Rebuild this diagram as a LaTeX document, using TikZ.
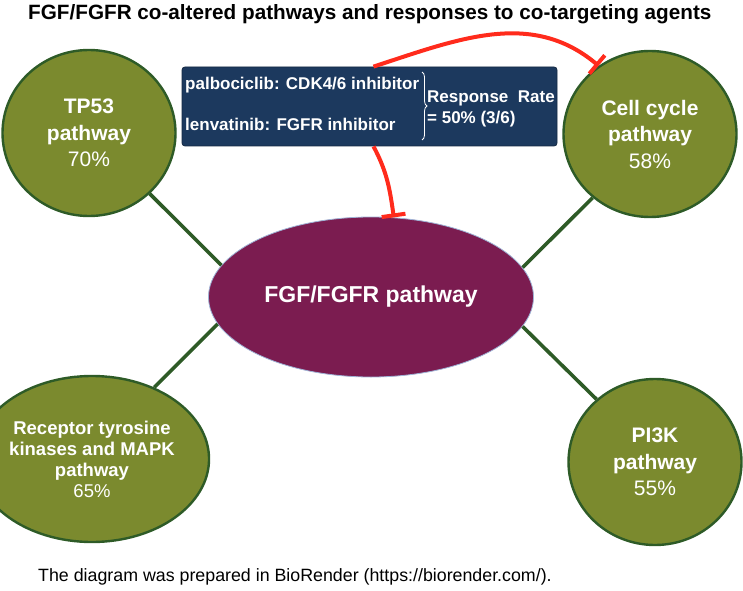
\documentclass[tikz,border=0pt]{standalone}
\usepackage{fontspec}
\setmainfont{Liberation Sans}
\usetikzlibrary{shapes.geometric,arrows.meta,decorations.pathreplacing}

\definecolor{olivefill}{HTML}{7B8A2E}
\definecolor{olivedraw}{HTML}{2E5B27}
\definecolor{fgfmaroon}{HTML}{7B1C50}
\definecolor{fgfedge}{HTML}{9FB3D6}
\definecolor{drugnavy}{HTML}{1C395E}
\definecolor{inhibred}{HTML}{FF2B1C}

\begin{document}
\begin{tikzpicture}[
    x=1pt, y=1pt,
    pway/.style={ellipse, draw=olivedraw, line width=2.4pt, fill=olivefill, text=white, align=center, inner sep=0pt, minimum width=173pt, minimum height=166pt, font=\fontsize{21}{26.5}\selectfont},
    hub/.style={ellipse, draw=fgfedge, line width=0.8pt, fill=fgfmaroon, text=white, inner sep=0pt, minimum width=325pt, minimum height=160pt, font=\bfseries\fontsize{23}{27}\selectfont},
    drugbox/.style={rectangle, rounded corners=3pt, draw=drugnavy!70!black, line width=0.8pt, fill=drugnavy, minimum width=375pt, minimum height=79pt},
    boxtext/.style={text=white, inner sep=0pt, anchor=west, align=left, font=\bfseries\fontsize{17}{21}\selectfont},
    edge/.style={-, line width=3.6pt, draw=olivedraw},
    block/.style={-{Bar[width=24pt, line width=4pt]}, line width=4pt, draw=inhibred}
]
    \useasboundingbox (0,0) rectangle (743,590);

    \node[anchor=west, inner sep=0pt, font=\bfseries\fontsize{20.7}{24}\selectfont] (title) at (28,576) {FGF/FGFR co-altered pathways and responses to co-targeting agents};

    % co-altered pathways
    \node[pway] (tp53) at (89,457) {\textbf{TP53}\\\textbf{pathway}\\70\%};
    \node[pway] (cell) at (650,456) {\textbf{Cell cycle}\\\textbf{pathway}\\58\%};
    \node[pway, minimum width=177pt, font=\fontsize{18.5}{21}\selectfont] (rtk) at (92,131) {\textbf{Receptor tyrosine}\\\textbf{kinases and MAPK}\\\textbf{pathway}\\65\%};
    \node[pway] (pik) at (655,128) {\textbf{PI3K}\\\textbf{pathway}\\55\%};
    \node[hub] (fgf) at (371,293) {FGF/FGFR pathway};

    % drug combination
    \node[drugbox] (combo) at (369.5,483.5) {};
    \node[boxtext] (palbo) at (185,505) {palbociclib: CDK4/6 inhibitor};
    \node[boxtext] (lenva) at (185,466) {lenvatinib: FGFR inhibitor};
    \node[boxtext] (rate) at (427,481) {Response\ \ Rate\\= 50\% (3/6)};
    \draw[white, line width=0.8pt, decorate, decoration={brace, amplitude=5pt}] (422,518) -- (422,450);

    \draw[edge] (tp53.-45) -- (fgf.168);
    \draw[edge] (cell.228) -- (fgf.11);
    \draw[edge] (rtk.49) -- (fgf.190);
    \draw[edge] (pik.133) -- (fgf.-11);

    \draw[block] ([xshift=4pt]combo.north) to[out=18, in=140] (cell.127);
    \draw[block] ([xshift=4pt]combo.south) to[out=-62, in=98] (fgf.74);

    \node[anchor=west, inner sep=0pt, font=\fontsize{17.8}{21}\selectfont] (credit) at (38,13) {The diagram was prepared in BioRender (https://biorender.com/).};
\end{tikzpicture}
\end{document}
